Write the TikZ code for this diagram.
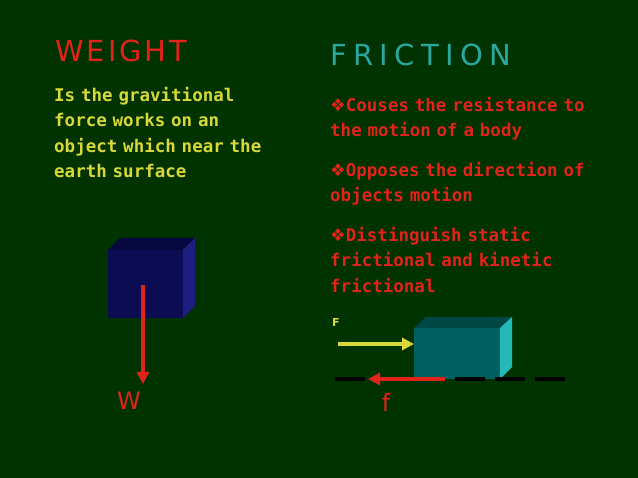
\documentclass[tikz,border=0pt]{standalone}
\usepackage{fontspec}
\setmainfont{DejaVu Sans}
\newfontfamily\monob{DejaVu Sans Mono}
\newfontfamily\djsans{DejaVu Sans}
\newfontfamily\headA[LetterSpace=10]{DejaVu Sans}
\newfontfamily\headB[LetterSpace=22]{DejaVu Sans}
\usetikzlibrary{arrows.meta}
\definecolor{bg}{HTML}{003300}
\definecolor{myred}{HTML}{E2231A}
\definecolor{myyel}{HTML}{D8D83A}
\definecolor{myteal}{HTML}{2AA8A0}
\begin{document}
\begin{tikzpicture}[x=1pt,y=-1pt,
  body/.style={anchor=north west,inner sep=0pt,align=left,font=\monob\bfseries\fontsize{17.5}{25.5}\selectfont},
  arr/.style={line width=4pt,-{Triangle[length=12pt,width=12pt]}}]
\fill[bg] (0,0) rectangle (638,478);
\useasboundingbox (0,0) rectangle (638,478);
\node[anchor=west,inner sep=0pt,font=\headA\fontsize{29}{30}\selectfont,myred] (wh) at (55,51) {WEIGHT};
\node[anchor=west,inner sep=0pt,font=\headB\fontsize{29}{30}\selectfont,myteal] (fh) at (330,55) {FRICTION};
\node[body,myyel,text width=260pt] (wt) at (54,87) {Is the gravitional\\force works on an\\object which near the\\earth surface};
\node[body,myred,text width=300pt] (ft) at (330,97) {{\djsans\char"2756}Couses the resistance to\\the motion of a body\\[14pt]{\djsans\char"2756}Opposes the direction of\\objects motion\\[14pt]{\djsans\char"2756}Distinguish static\\frictional and kinetic\\frictional};
% navy cube
\fill[fill={rgb,255:red,8;green,8;blue,64}] (108,250) -- (120,238) -- (195,238) -- (183,250) -- cycle;
\fill[fill={rgb,255:red,30;green,30;blue,130}] (183,250) -- (195,238) -- (195,306) -- (183,318) -- cycle;
\fill[fill={rgb,255:red,12;green,12;blue,82}] (108,250) rectangle (183,318);
\coordinate (w1) at (143,285);
\coordinate (w2) at (143,384);
\draw[arr,myred] (w1) -- (w2);
\node[font=\djsans\fontsize{24}{26}\selectfont,myred] (W) at (129,401) {W};
% teal box
\fill[fill={rgb,255:red,0;green,72;blue,72}] (414,328) -- (426,317) -- (512,317) -- (500,328) -- cycle;
\fill[fill={rgb,255:red,35;green,185;blue,185}] (500,328) -- (512,317) -- (512,367) -- (500,379) -- cycle;
\fill[fill={rgb,255:red,0;green,96;blue,96}] (414,328) rectangle (500,379);
\draw[black,line width=4pt,dash pattern=on 30pt off 10pt] (335,379) -- (566,379);
\coordinate (F1) at (338,344);
\coordinate (F2) at (414,344);
\draw[arr,myyel] (F1) -- (F2);
\coordinate (f1) at (445,379);
\coordinate (f2) at (368,379);
\draw[arr,myred] (f1) -- (f2);
\node[font=\djsans\bfseries\fontsize{11}{12}\selectfont,myyel] (Fl) at (336,322) {F};
\node[font=\djsans\fontsize{24}{26}\selectfont,myred] (fl) at (386,402) {f};
\end{tikzpicture}
\end{document}
